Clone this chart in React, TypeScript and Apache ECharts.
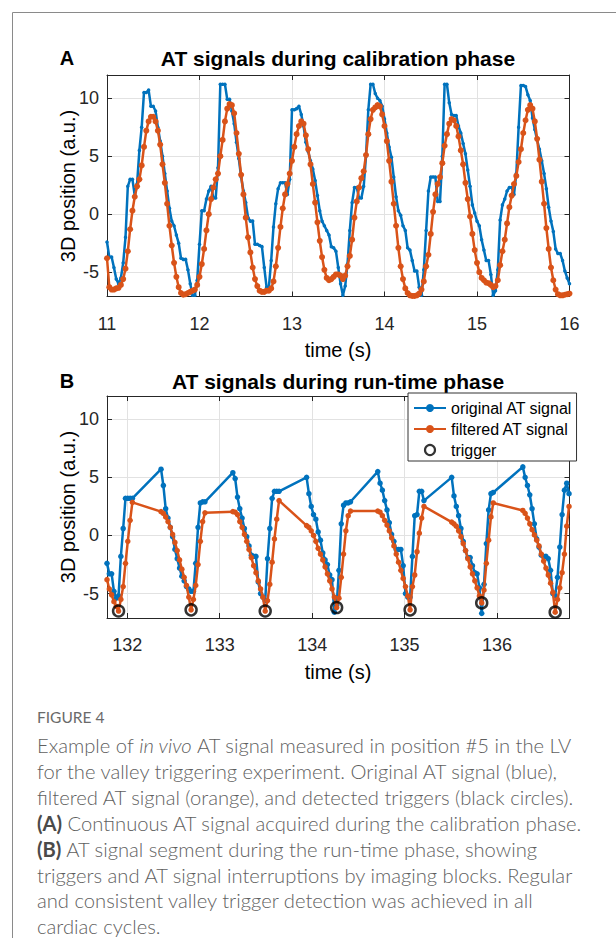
import React, { useEffect, useRef } from 'react';
import * as echarts from 'echarts';

// ---------- Panel A: calibration phase (sampled every 25 ms from 11 s) ----------
const calibStart = 11;
const calibStep = 0.025;
const calibOriginal = [
  -2.4, -3.7, -3.7, -4.6, -5.6, -6.0, -5.5, -4.2, -2.0, 2.4,
  3.0, 3.0, 1.6, 2.6, 5.5, 7.5, 10.5, 10.5, 10.7, 9.3,
  9.3, 8.9, 7.5, 6.3, 5.0, 3.5, 2.0, 0.5, -0.6, -1.0,
  -1.8, -2.5, -3.8, -3.9, -3.9, -4.8, -6.0, -7.0, -7.0, -5.7,
  -2.6, 0.3, 0.3, 1.3, 2.0, 2.4, 1.4, 1.4, 4.0, 11.2,
  11.2, 11.2, 9.9, 9.9, 8.9, 7.8, 6.2, 4.8, 3.2, 2.0,
  1.0, -0.3, -0.6, -0.6, -2.6, -2.6, -2.7, -2.8, -4.6, -6.3,
  -6.3, -4.0, -1.1, 0.9, 2.2, 2.7, 2.7, 2.7, 1.7, 3.0,
  9.0, 9.0, 9.1, 9.3, 8.6, 7.6, 6.2, 5.4, 4.6, 3.9,
  2.9, 1.6, 0.3, -0.6, -1.0, -1.4, -1.8, -2.8, -2.9, -3.2,
  -4.6, -6.0, -7.0, -6.2, -4.3, -1.4, 1.0, 2.3, 2.3, 1.4,
  1.4, 2.4, 5.0, 9.0, 11.2, 11.2, 10.4, 10.0, 9.8, 9.3,
  8.2, 7.0, 5.8, 4.9, 3.2, 1.5, 0.3, -0.1, -1.0, -1.4,
  -2.9, -3.1, -4.0, -4.9, -4.9, -6.3, -7.0, -4.8, -1.4, 2.0,
  3.2, 3.2, 3.2, 1.1, 1.1, 5.0, 11.2, 11.2, 9.6, 8.6,
  8.5, 8.5, 7.6, 7.0, 6.1, 5.2, 3.8, 2.4, 0.8, 0.1,
  -0.6, -1.0, -2.2, -3.1, -4.0, -4.0, -5.2, -7.0, -6.6, -4.8,
  -0.5, 0.8, 1.3, 2.0, 2.3, 2.3, 1.7, 3.5, 7.5, 11.1,
  11.1, 11.0, 10.3, 9.8, 8.3, 7.3, 6.4, 5.6, 4.6, 3.5,
  2.2, 0.6, -0.6, -1.5, -3.0, -3.4, -3.4, -4.0, -4.9, -5.5,
  -6.0,
];
const calibFiltered = [
  -3.8, -6.3, -6.5, -6.5, -6.4, -6.35, -6.1, -5.6, -4.7, -3.2,
  -1.3, 0.3, 1.5, 2.4, 3.0, 4.2, 5.8, 7.2, 8.0, 8.4,
  8.4, 8.0, 7.2, 6.0, 4.3, 2.7, 0.9, -1.0, -2.7, -4.2,
  -5.4, -6.3, -6.8, -6.95, -6.9, -6.8, -6.7, -6.6, -6.5, -6.1,
  -5.4, -4.3, -3.0, -1.4, 0.0, 1.3, 2.3, 3.0, 3.5, 5.0,
  6.4, 8.0, 9.1, 9.5, 9.4, 8.7, 7.0, 5.2, 3.4, 1.7,
  -0.3, -2.0, -3.3, -4.6, -5.6, -6.2, -6.6, -6.7, -6.7, -6.6,
  -6.6, -6.4, -5.8, -4.5, -2.9, -1.1, 0.5, 1.7, 2.6, 3.5,
  4.6, 5.8, 6.9, 7.6, 8.0, 7.8, 6.8, 5.6, 4.3, 2.6,
  1.0, -0.7, -2.3, -3.7, -4.8, -5.5, -5.7, -5.6, -5.4, -5.2,
  -5.2, -5.3, -5.6, -5.3, -4.5, -3.6, -2.2, -0.3, 1.1, 2.3,
  3.1, 3.7, 5.1, 6.9, 8.2, 9.0, 9.2, 9.4, 9.3, 8.6,
  7.6, 6.3, 4.6, 2.8, 0.9, -1.0, -2.9, -4.5, -5.6, -6.4,
  -6.8, -7.0, -7.05, -7.05, -7.0, -6.85, -6.5, -5.8, -4.5, -3.5,
  -1.7, 0.2, 1.7, 2.6, 3.2, 4.4, 5.9, 6.9, 7.8, 8.2,
  8.1, 7.6, 6.7, 5.5, 4.3, 2.7, 1.3, -0.2, -1.7, -3.1,
  -4.2, -5.0, -5.5, -5.7, -5.9, -5.95, -6.1, -6.3, -6.2, -5.7,
  -4.4, -3.2, -2.2, -0.8, 0.6, 1.6, 2.6, 3.3, 4.5, 5.6,
  7.0, 8.1, 9.0, 9.4, 9.1, 8.0, 6.5, 4.7, 2.8, 0.9,
  -1.2, -3.0, -4.6, -5.7, -6.5, -6.9, -7.0, -7.0, -6.95, -6.9,
  -6.85,
];
const calibXTicks = [11, 12, 13, 14, 15, 16];

// ---------- Panel B: run-time phase (runs of 25 ms samples between imaging blocks) ----------
const runStep = 0.025;
const runStarts = [131.78, 132.365, 133.142, 133.94, 134.71, 135.51, 136.28];
const runOriginal = [
  [-2.4, -3.3, -3.3, -4.8, -5.4, -5.2, -1.8, 0.6, 3.2, 3.2, 3.2, 3.2],
  [5.7, 4.3, 2.3, 1.5, 0.7, -0.1, -1.2, -2.0, -2.8, -3.5, -3.9, -4.4, -4.6, -4.8, -4.8, -2.4, 0.7, 2.8, 2.9, 2.9],
  [5.4, 4.9, 3.3, 2.3, 1.5, 0.6, -0.1, -0.9, -1.7, -1.8, -1.8, -4.0, -5.0, -5.3, -5.6, -2.0, 0.6, 3.2, 3.8, 3.8, 3.8],
  [5.0, 3.6, 2.5, 1.8, 1.4, 0.3, -0.4, -1.5, -2.1, -2.5, -3.4, -3.8, -6.6, -6.0, -3.0, 1.0, 2.6, 2.8, 2.8, 2.9],
  [5.5, 4.5, 3.9, 3.0, 2.2, 1.1, 0.1, -0.5, -1.2, -1.2, -1.2, -2.6, -5.0, -5.3, -5.3, -1.8, 1.7, 1.8, 3.8, 3.8, 3.0],
  [5.0, 3.4, 2.5, 1.7, 0.6, -0.5, -1.3, -1.9, -1.9, -2.6, -3.2, -3.3, -4.5, -6.7, -4.2, -0.7, 2.2, 3.6, 3.7],
  [5.9, 5.0, 4.3, 3.5, 2.3, 1.0, -0.3, -1.0, -1.7, -1.8, -1.8, -2.0, -3.0, -5.0, -5.2, -3.6, -1.0, 1.8, 3.9, 4.5, 3.6],
];
const runFiltered = [
  [-3.8, -4.6, -5.1, -5.7, -6.1, -6.5, -5.5, -4.4, -2.4, -0.5, 1.3, 2.85],
  [2.05, 1.9, 1.6, 1.2, 0.7, 0.1, -0.6, -1.3, -2.1, -2.9, -3.6, -4.3, -5.3, -6.4, -5.5, -4.3, -2.5, -0.5, 1.2, 1.95],
  [2.05, 2.0, 1.8, 1.2, 0.7, 0.1, -0.5, -1.2, -1.9, -2.6, -3.2, -3.9, -4.6, -5.3, -6.5, -5.6, -4.2, -2.3, -0.3, 1.4, 3.0],
  [0.85, 0.7, 0.4, 0.0, -0.5, -1.1, -1.6, -2.1, -2.7, -3.3, -3.9, -4.6, -5.3, -6.2, -5.4, -3.6, -1.6, 0.4, 1.7, 2.1],
  [2.1, 2.0, 1.7, 1.3, 0.9, 0.4, -0.2, -0.9, -1.6, -2.3, -3.0, -3.7, -4.4, -5.2, -6.4, -4.4, -3.4, -1.4, 0.2, 1.5, 2.5],
  [1.15, 1.0, 0.8, 0.4, -0.1, -0.7, -1.3, -2.0, -2.7, -3.3, -3.9, -4.5, -5.2, -5.8, -4.7, -2.4, -0.4, 1.6, 2.8],
  [2.15, 1.9, 1.5, 1.0, 0.5, 0.05, -0.4, -0.9, -1.6, -2.2, -2.8, -3.4, -4.1, -4.9, -6.6, -5.5, -4.5, -3.2, -1.6, 0.8, 2.5],
];
const triggerTimes = [131.905, 132.69, 133.492, 134.265, 135.06, 135.835, 136.63];
const triggerValues = [-6.5, -6.4, -6.5, -6.2, -6.4, -5.8, -6.6];
const runXTicks = [132, 133, 134, 135, 136];
const yTicks = [-5, 0, 5, 10];

const captionLines = [
  '{n|Example of }{i|in vivo}{n| AT signal measured in position #5 in the LV}',
  '{n|for the valley triggering experiment. Original AT signal (blue),}',
  '{n|filtered AT signal (orange), and detected triggers (black circles).}',
  '{b|(A)}{n| Continuous AT signal acquired during the calibration phase.}',
  '{b|(B)}{n| AT signal segment during the run-time phase, showing}',
  '{n|triggers and AT signal interruptions by imaging blocks. Regular}',
  '{n|and consistent valley trigger detection was achieved in all}',
  '{n|cardiac cycles.}',
];

const BLUE = '#0072BD';
const ORANGE = '#D95319';
const AX = '#262626';
const GRIDC = '#e2e2e2';
const FONT = '"Liberation Sans", Arial, sans-serif';
const CAPFONT = 'Lato, "Open Sans", sans-serif';
const CAPSIZE = 20.2;

function r3(x: number) {
  return Math.round(x * 1000) / 1000;
}

function xPair(gridIndex: number, min: number, max: number, ticks: number[]) {
  return [
    {
      type: 'value', gridIndex, min, max, position: 'bottom',
      axisLine: { show: true, onZero: false, lineStyle: { color: AX, width: 1 } },
      axisTick: { show: true, inside: true, length: 5, customValues: ticks, lineStyle: { color: AX } },
      axisLabel: { show: true, customValues: ticks, margin: 18, color: AX, fontSize: 18, fontFamily: FONT },
      splitLine: { show: true, lineStyle: { color: GRIDC, width: 1 } },
    },
    {
      type: 'value', gridIndex, min, max, position: 'top',
      axisLine: { show: true, onZero: false, lineStyle: { color: AX, width: 1 } },
      axisTick: { show: true, inside: true, length: 5, customValues: ticks, lineStyle: { color: AX } },
      axisLabel: { show: false },
      splitLine: { show: false },
    },
  ];
}

function yPair(gridIndex: number, min: number, max: number, ticks: number[]) {
  return [
    {
      type: 'value', gridIndex, min, max, position: 'left',
      axisLine: { show: true, onZero: false, lineStyle: { color: AX, width: 1 } },
      axisTick: { show: true, inside: true, length: 5, customValues: ticks, lineStyle: { color: AX } },
      axisLabel: { show: true, customValues: ticks, margin: 8, color: AX, fontSize: 18, fontFamily: FONT },
      splitLine: { show: true, lineStyle: { color: GRIDC, width: 1 } },
    },
    {
      type: 'value', gridIndex, min, max, position: 'right',
      axisLine: { show: true, onZero: false, lineStyle: { color: AX, width: 1 } },
      axisTick: { show: true, inside: true, length: 5, customValues: ticks, lineStyle: { color: AX } },
      axisLabel: { show: false },
      splitLine: { show: false },
    },
  ];
}

export default function App() {
  const ref = useRef<HTMLDivElement>(null);
  useEffect(() => {
    if (!ref.current) return;
    const chart = echarts.init(ref.current, null, { renderer: 'svg' });

    const calibO = calibOriginal.map((v, k) => [r3(calibStart + k * calibStep), v]);
    const calibF = calibFiltered.map((v, k) => [r3(calibStart + k * calibStep), v]);
    const runO: number[][] = [];
    const runF: number[][] = [];
    runOriginal.forEach((vals, r) => vals.forEach((v, i) => runO.push([r3(runStarts[r] + i * runStep), v])));
    runFiltered.forEach((vals, r) => vals.forEach((v, i) => runF.push([r3(runStarts[r] + i * runStep), v])));
    const trig = triggerTimes.map((t, i) => [t, triggerValues[i]]);

    const txt = (x: number, y: number, text: string, size: number, bold: boolean, rot = 0) => ({
      type: 'text', x, y, rotation: rot,
      style: {
        text, fill: '#000', fontSize: size, fontFamily: FONT, fontWeight: bold ? 'bold' : 'normal',
        align: 'center', verticalAlign: 'middle',
      },
    });

    const capRich = {
      n: { fontSize: CAPSIZE, lineHeight: 22, fontFamily: CAPFONT, fill: '#5f5f5f', fontWeight: 300 },
      i: { fontSize: CAPSIZE, lineHeight: 22, fontFamily: CAPFONT, fill: '#5f5f5f', fontStyle: 'italic', fontWeight: 300 },
      b: { fontSize: CAPSIZE, lineHeight: 22, fontFamily: CAPFONT, fill: '#4a4a4a', fontWeight: 'bold' },
    };

    const graphics: any[] = [
      { type: 'line', shape: { x1: 12.5, y1: 12.5, x2: 12.5, y2: 938 }, style: { stroke: '#8a8a8a', lineWidth: 1 } },
      { type: 'line', shape: { x1: 12.5, y1: 12.5, x2: 616, y2: 12.5 }, style: { stroke: '#8a8a8a', lineWidth: 1 } },
      txt(67, 58, 'A', 20, true),
      txt(338, 58, 'AT signals during calibration phase', 21, true),
      txt(67, 381, 'B', 20, true),
      txt(338, 381, 'AT signals during run-time phase', 21, true),
      txt(68, 186, '3D position (a.u.)', 20, false, Math.PI / 2),
      txt(68, 507, '3D position (a.u.)', 20, false, Math.PI / 2),
      txt(338, 350, 'time (s)', 20, false),
      txt(338, 672, 'time (s)', 20, false),
      {
        type: 'text', x: 37, y: 717,
        style: { text: 'FIGURE 4', fill: '#6a6a6a', fontSize: 15.5, fontFamily: CAPFONT, verticalAlign: 'middle' },
      },
      ...captionLines.map((line, i) => ({
        type: 'text', x: 37, y: 745 + i * 25.9,
        style: {
          text: line, rich: capRich, fill: '#5f5f5f', fontSize: CAPSIZE, lineHeight: 22,
          fontFamily: CAPFONT, verticalAlign: 'middle',
        },
      })),
    ];

    chart.setOption({
      animation: false,
      backgroundColor: '#fff',
      grid: [
        { left: 107, top: 75, width: 462.5, height: 221.5, outerBoundsMode: 'none' },
        { left: 107, top: 396, width: 462.5, height: 222, outerBoundsMode: 'none' },
      ],
      xAxis: [...xPair(0, 11, 16, calibXTicks), ...xPair(1, 131.78, 136.785, runXTicks)],
      yAxis: [...yPair(0, -7.1, 12, yTicks), ...yPair(1, -7.1, 12, yTicks)],
      legend: {
        data: [
          { name: 'original AT signal' },
          { name: 'filtered AT signal' },
          { name: 'trigger', icon: 'circle', itemStyle: { color: 'rgba(0,0,0,0)', borderColor: '#000', borderWidth: 2.2 } },
        ],
        orient: 'vertical', left: 408, top: 393,
        itemWidth: 32, itemHeight: 10, itemGap: 5,
        padding: [7, 4, 3, 5],
        borderColor: '#333', borderWidth: 1, backgroundColor: '#fff',
        textStyle: { fontSize: 16, color: '#000', fontFamily: FONT },
        selectedMode: false, z: 10,
      },
      series: [
        {
          type: 'line', name: 'calib original', xAxisIndex: 0, yAxisIndex: 0, data: calibO,
          symbol: 'circle', symbolSize: 3.5, showAllSymbol: true,
          lineStyle: { color: BLUE, width: 2.5 }, itemStyle: { color: BLUE }, z: 2, silent: true,
        },
        {
          type: 'line', name: 'calib filtered', xAxisIndex: 0, yAxisIndex: 0, data: calibF,
          symbol: 'circle', symbolSize: 6, showAllSymbol: true,
          lineStyle: { color: ORANGE, width: 2.5 }, itemStyle: { color: ORANGE }, z: 3, silent: true,
        },
        {
          type: 'line', name: 'original AT signal', xAxisIndex: 2, yAxisIndex: 2, data: runO,
          symbol: 'circle', symbolSize: 5.5, showAllSymbol: true,
          lineStyle: { color: BLUE, width: 2.5 }, itemStyle: { color: BLUE }, z: 2, silent: true,
        },
        {
          type: 'line', name: 'filtered AT signal', xAxisIndex: 2, yAxisIndex: 2, data: runF,
          symbol: 'circle', symbolSize: 5.5, showAllSymbol: true,
          lineStyle: { color: ORANGE, width: 2.5 }, itemStyle: { color: ORANGE }, z: 3, silent: true,
        },
        {
          type: 'scatter', name: 'trigger', xAxisIndex: 2, yAxisIndex: 2, data: trig,
          symbol: 'circle', symbolSize: 11,
          itemStyle: { color: 'rgba(0,0,0,0)', borderColor: '#000', borderWidth: 2.5 }, z: 4, silent: true,
        },
      ],
      graphic: graphics,
    });

    return () => chart.dispose();
  }, []);

  return (
    <div
      ref={ref}
      style={{ position: 'absolute', left: 0, top: 0, width: 616, height: 938, background: '#fff' }}
    />
  );
}
